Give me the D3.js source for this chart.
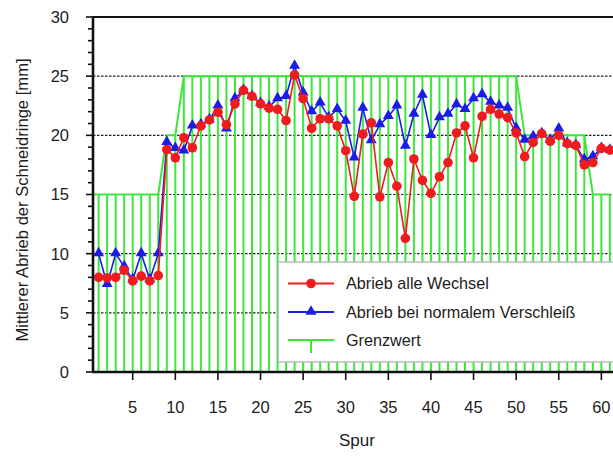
<!DOCTYPE html>
<html>
<head>
<meta charset="utf-8">
<script src="https://cdn.jsdelivr.net/npm/d3@7"></script>
<style>
body { margin: 0; background: #fff; }
text { font-family: "Liberation Sans", Arial, sans-serif; fill: #1c1c1c; }
</style>
</head>
<body>
<div id="chart"></div>
<script>
// Spur 1..61
var spur = d3.range(1, 62);

var abriebAlle = [8.0, 7.95, 8.0, 8.6, 7.7, 8.1, 7.7, 8.15, 18.8, 18.1,
	19.8, 18.95, 20.8, 21.3, 21.95, 20.9, 22.66, 23.8, 23.3, 22.66,
	22.3, 22.2, 21.25, 25.1, 23.1, 20.6, 21.4, 21.4, 20.8, 18.7,
	14.85, 20.1, 21.05, 14.8, 17.7, 15.7, 11.3, 18.0, 16.2, 15.1,
	16.5, 17.7, 20.2, 20.8, 18.1, 21.6, 22.2, 21.8, 21.5, 20.2,
	18.2, 19.4, 20.15, 19.5, 20.0, 19.3, 19.15, 17.5, 17.7, 18.9, 18.75];

var abriebNormal = [10.0, 7.4, 10.0, 8.9, 7.8, 10.0, 7.8, 10.0, 19.4, 18.9,
	18.7, 20.8, 20.9, 21.3, 22.5, 20.55, 23.1, 23.8, 23.3, 22.7,
	22.4, 23.1, 23.3, 25.85, 23.6, 22.0, 22.75, 21.5, 22.2, 21.2,
	18.1, 22.3, 19.55, 20.9, 21.6, 22.5, 19.1, 21.8, 23.4, 20.0,
	21.5, 21.8, 22.6, 22.2, 23.1, 23.45, 22.8, 22.5, 22.3, 20.6,
	19.6, 19.9, 20.15, 19.6, 20.55, 19.3, 19.15, 17.95, 18.2, 18.9, 18.75];

var grenzwert = [15, 15, 15, 15, 15, 15, 15, 15, 20, 20,
	25, 25, 25, 25, 25, 25, 25, 25, 25, 25,
	25, 25, 25, 25, 25, 25, 25, 25, 25, 25,
	25, 25, 25, 25, 25, 25, 25, 25, 25, 25,
	25, 25, 25, 25, 25, 25, 25, 25, 25, 25,
	20, 20, 20, 20, 20, 20, 20, 20, 15, 15, 15];

var yTicks = [0, 5, 10, 15, 20, 25, 30];
var xTicks = [5, 10, 15, 20, 25, 30, 35, 40, 45, 50, 55, 60];
var legendLabels = ["Abrieb alle Wechsel", "Abrieb bei normalem Verschleiß", "Grenzwert"];

var width = 613, height = 457;
var red = "#ee1c1c", blue = "#1c1ce6", green = "#3de63d";

var svg = d3.select("#chart").append("svg")
	.attr("width", width).attr("height", height);

var xMin = 0.34;
var x = d3.scaleLinear().domain([xMin, 62]).range([93, 618.4]);
var y = d3.scaleLinear().domain([0, 30]).range([372, 17]);

var rows = spur.map(function(s, i) {
	return {s: s, a: abriebAlle[i], n: abriebNormal[i], g: grenzwert[i]};
});

// dotted grid
svg.append("g").selectAll("line").data(yTicks.filter(function(t) { return t > 0 && t < 30; }))
	.enter().append("line")
	.attr("x1", x(xMin)).attr("x2", width)
	.attr("y1", function(d) { return y(d); }).attr("y2", function(d) { return y(d); })
	.attr("stroke", "#222").attr("stroke-width", 1.2).attr("stroke-dasharray", "2.5,1.5");

// Grenzwert: vertical lines + outline (outline starts at the axis)
svg.append("g").selectAll("line").data(rows).enter().append("line")
	.attr("x1", function(d) { return x(d.s); }).attr("x2", function(d) { return x(d.s); })
	.attr("y1", y(0)).attr("y2", function(d) { return y(d.g); })
	.attr("stroke", green).attr("stroke-width", 2);

var outline = [{s: xMin, g: grenzwert[0]}].concat(rows);
svg.append("path").datum(outline)
	.attr("fill", "none").attr("stroke", green).attr("stroke-width", 2)
	.attr("d", d3.line().x(function(d) { return x(d.s); }).y(function(d) { return y(d.g); }));

var line = d3.line().x(function(d) { return x(d[0]); }).y(function(d) { return y(d[1]); });

// blue series
svg.append("path").datum(rows.map(function(d) { return [d.s, d.n]; }))
	.attr("fill", "none").attr("stroke", blue).attr("stroke-width", 1.6).attr("d", line);
var tri = d3.symbol().type(d3.symbolTriangle).size(52);
svg.append("g").selectAll("path").data(rows).enter().append("path")
	.attr("d", tri)
	.attr("transform", function(d) { return "translate(" + x(d.s) + "," + (y(d.n) - 0.5) + ")"; })
	.attr("fill", blue);

// red series
svg.append("path").datum(rows.map(function(d) { return [d.s, d.a]; }))
	.attr("fill", "none").attr("stroke", red).attr("stroke-width", 1.6).attr("d", line);
svg.append("g").selectAll("circle").data(rows).enter().append("circle")
	.attr("cx", function(d) { return x(d.s); }).attr("cy", function(d) { return y(d.a); })
	.attr("r", 4.8).attr("fill", red);

// legend
var lg = svg.append("g").attr("transform", "translate(278,262)");
lg.append("rect").attr("x", 0).attr("y", 0).attr("width", 345).attr("height", 100)
	.attr("fill", "#fff").attr("stroke", "#aaa").attr("stroke-width", 1.2);
var ly = [21.5, 50, 78];
legendLabels.forEach(function(lbl, i) {
	var col = [red, blue, green][i];
	lg.append("line").attr("x1", 10).attr("x2", 56).attr("y1", ly[i]).attr("y2", ly[i])
		.attr("stroke", col).attr("stroke-width", 2);
	if (i === 0) {
		lg.append("circle").attr("cx", 33).attr("cy", ly[i]).attr("r", 4.8).attr("fill", red);
	} else if (i === 1) {
		lg.append("path").attr("d", tri).attr("transform", "translate(33," + (ly[i] - 0.5) + ")").attr("fill", blue);
	} else {
		lg.append("line").attr("x1", 33).attr("x2", 33).attr("y1", ly[i]).attr("y2", ly[i] + 13)
			.attr("stroke", green).attr("stroke-width", 2);
	}
	lg.append("text").attr("x", 68).attr("y", ly[i]).attr("dy", "0.35em")
		.attr("font-size", 16.2).text(lbl);
});

// frame top
svg.append("line").attr("x1", 92).attr("x2", width).attr("y1", y(30)).attr("y2", y(30))
	.attr("stroke", "#111").attr("stroke-width", 2.2);

// y axis
var yAxis = svg.append("g").attr("transform", "translate(93,0)");
yAxis.append("g").selectAll("line").data(d3.range(0, 31)).enter().append("line")
	.attr("x1", function(d) { return d % 5 === 0 ? -7 : -5; }).attr("x2", 0)
	.attr("y1", function(d) { return y(d); }).attr("y2", function(d) { return y(d); })
	.attr("stroke", "#111").attr("stroke-width", 1.6);
yAxis.append("line").attr("x1", 0).attr("x2", 0).attr("y1", y(0) + 1).attr("y2", y(30) - 1)
	.attr("stroke", "#111").attr("stroke-width", 2.6);
yAxis.selectAll("text").data(yTicks).enter().append("text")
	.attr("x", -24).attr("y", function(d) { return y(d); }).attr("dy", "0.36em")
	.attr("text-anchor", "end").attr("font-size", 16.5).text(function(d) { return d; });

// x axis
var xAxis = svg.append("g").attr("transform", "translate(0," + y(0) + ")");
xAxis.append("line").attr("x1", 92).attr("x2", width).attr("y1", 0).attr("y2", 0)
	.attr("stroke", "#111").attr("stroke-width", 2.6);
xAxis.selectAll("line.tick").data(xTicks).enter().append("line").attr("class", "tick")
	.attr("x1", function(d) { return x(d); }).attr("x2", function(d) { return x(d); })
	.attr("y1", 0).attr("y2", 8).attr("stroke", "#111").attr("stroke-width", 1.6);
xAxis.selectAll("text").data(xTicks).enter().append("text")
	.attr("x", function(d) { return x(d); }).attr("y", 41)
	.attr("text-anchor", "middle").attr("font-size", 16.5).text(function(d) { return d; });

// titles
svg.append("text").attr("x", 357).attr("y", 446).attr("text-anchor", "middle")
	.attr("font-size", 17).text("Spur");
svg.append("text").attr("transform", "translate(28,200) rotate(-90)")
	.attr("text-anchor", "middle").attr("font-size", 16.6)
	.text("Mittlerer Abrieb der Schneidringe [mm]");
</script>
</body>
</html>
